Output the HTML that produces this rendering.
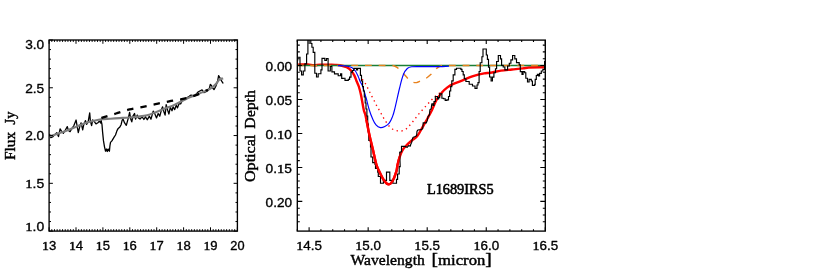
<!DOCTYPE html>
<html><head><meta charset="utf-8"><title>plot</title>
<style>
html,body{margin:0;padding:0;background:#fff;}
body{width:817px;height:272px;overflow:hidden;font-family:"Liberation Serif",serif;}
svg{display:block}
text{font-family:"Liberation Serif",serif;fill:#000;stroke:#000;stroke-width:0.45px;stroke-linejoin:round}
text.n{font-family:"Liberation Sans",sans-serif;stroke-width:0.34px}
tspan.o{font-family:"Liberation Serif",serif;stroke-width:0.45px}
</style></head><body>
<svg width="817" height="272" viewBox="0 0 817 272">
<rect width="817" height="272" fill="#fff"/>
<defs>
<clipPath id="cl"><rect x="49.1" y="40.0" width="188.3" height="191.1"/></clipPath>
<clipPath id="cr"><rect x="297.3" y="40.1" width="248" height="191"/></clipPath>
<clipPath id="ctop"><rect x="364" y="120" width="35.6" height="75"/></clipPath>
</defs>
<!-- left plot -->
<g clip-path="url(#cl)" fill="none" stroke-linejoin="round" stroke-linecap="butt">
<path d="M48.9 136 L49.7 134.4 L50.8 137.7 L53 136.6 L54.6 134.9 L56.8 132.7 L58.5 136.6 L60.1 128.8 L61.8 131.6 L63.4 133.2 L65.1 130.5 L67.3 126.6 L68.4 130.5 L70.1 131.6 L71.7 128.8 L73.9 125.5 L76.1 120 L77.2 126.6 L78.3 132.7 L80 125.5 L81.1 122.8 L82.7 129.9 L83.8 124.4 L85.5 120.6 L86.6 124.4 L88.2 121.7 L89.7 112.9 L90.4 121.1 L91.6 125.5 L92.7 120 L94.3 121.7 L96 123.9 L97.9 122.8 L99.35 121.14 L100.82 122.98 L101.1 120.3 L102 124.7 L102.6 132.1 L103.5 140.9 L104.5 146.8 L105.5 151.2 L106.4 149 L107.3 151.5 L108.2 149 L109.4 151.2 L109.9 146 L110.5 142.4 L111.9 140.9 L114.1 137.2 L115.5 135 L117 130.6 L118.2 128.4 L119.9 126.9 L121.1 124.7 L122.1 120.3 L123 119 L124.6 122.9 L126.3 125.3 L128.5 117.4 L129.6 112.4 L130.7 119 L131.8 121.8 L132.9 116.2 L134.5 113.5 L135.6 119 L137.3 115.1 L138.4 117.9 L140 119 L142.2 116.8 L143.9 119.5 L145.5 116.8 L147.2 119.8 L149.4 116.2 L151 119.2 L153.2 111.2 L154.9 114 L156.5 117.9 L158.2 113.5 L159.8 116.2 L161.5 109.6 L162.6 106.8 L163.7 111.2 L165.1 115.1 L166.2 104.6 L167.6 110.1 L168.9 114 L170.3 107.4 L172 110.7 L173.1 106.8 L174.7 109.6 L176.2 105.2 L177.5 107.9 L179.1 103.5 L180.8 103.8 L182.12 100.74 L183.96 99.82 L185.79 98.53 L189.19 96.36 L191.03 95.07 L194.71 95.81 L198.38 91.76 L202.06 89.93 L203.9 92.68 L207.57 90.85 L209.41 88.09 L210.33 84.41 L211.25 85.33 L212.72 88.09 L214.01 89.56 L215.85 86.25 L217.68 80.74 L218.6 75.59 L220.07 77.98 L221.36 80.74 L222.65 82.57 L223.2 83.49" stroke="#000" stroke-width="1.3"/>
<path d="M49.8 135.9 C55.33 134.03 60.93 132.33 66.4 130.3 C72.6 128 78.6 125.2 84.8 122.9 C87.14 122.03 89.57 121.39 92 120.8 C95.04 120.06 98.1 119.32 101.2 118.9 C104.25 118.49 107.33 118.5 110.4 118.3 C113.47 118.1 116.53 117.9 119.6 117.7 C122.67 117.5 125.74 117.35 128.8 117.1 C131.87 116.85 134.94 116.58 138 116.2 C141.08 115.82 144.19 115.57 147.2 114.8 C150.36 113.99 153.35 112.64 156.4 111.5 C159.48 110.34 162.54 109.11 165.6 107.9 C168.67 106.68 171.79 105.56 174.8 104.2 C177.93 102.79 180.92 101.12 184 99.6 C185.72 98.75 187.43 97.86 189.2 97.1 C192.24 95.79 195.33 94.63 198.4 93.4 C201.47 92.17 204.62 91.14 207.6 89.7 C209.54 88.76 211.39 87.62 213.1 86.3 C214.48 85.23 215.66 83.92 216.8 82.6 C217.8 81.45 218.26 79.79 219.5 78.9 C220.53 78.16 221.97 78.3 223.2 78" stroke="#7c7c7c" stroke-width="2.1" transform="translate(0,0.4)"/>
<path d="M100.3 117.4 C101.27 117.1 102.23 116.8 103.2 116.5 C107.47 115.2 111.73 113.89 116 112.6 C120.53 111.23 125 109.64 129.6 108.5 C134.05 107.4 138.61 106.82 143.1 105.9 C147.24 105.05 151.36 104.06 155.5 103.2 C160.06 102.26 164.63 101.36 169.2 100.5 C173.79 99.63 178.45 99.05 183 98 C187.39 96.98 191.77 95.86 196 94.3 C200.13 92.78 204 90.63 208 88.8" transform="translate(0,0.9)" stroke="#000" stroke-width="2.3" stroke-dasharray="6.4 7.1" stroke-dashoffset="-1.1"/>
</g>
<rect x="49.1" y="40.0" width="188.3" height="191.1" fill="none" stroke="#000" stroke-width="1.35"/>
<path d="M49.1 231.1 v-3.8 M49.1 40 v3.8 M51.79 231.1 v-1.9 M51.79 40 v1.9 M54.48 231.1 v-1.9 M54.48 40 v1.9 M57.17 231.1 v-1.9 M57.17 40 v1.9 M59.86 231.1 v-1.9 M59.86 40 v1.9 M62.55 231.1 v-1.9 M62.55 40 v1.9 M65.24 231.1 v-1.9 M65.24 40 v1.9 M67.93 231.1 v-1.9 M67.93 40 v1.9 M70.62 231.1 v-1.9 M70.62 40 v1.9 M73.31 231.1 v-1.9 M73.31 40 v1.9 M76 231.1 v-3.8 M76 40 v3.8 M78.69 231.1 v-1.9 M78.69 40 v1.9 M81.38 231.1 v-1.9 M81.38 40 v1.9 M84.07 231.1 v-1.9 M84.07 40 v1.9 M86.76 231.1 v-1.9 M86.76 40 v1.9 M89.45 231.1 v-1.9 M89.45 40 v1.9 M92.14 231.1 v-1.9 M92.14 40 v1.9 M94.83 231.1 v-1.9 M94.83 40 v1.9 M97.52 231.1 v-1.9 M97.52 40 v1.9 M100.21 231.1 v-1.9 M100.21 40 v1.9 M102.9 231.1 v-3.8 M102.9 40 v3.8 M105.59 231.1 v-1.9 M105.59 40 v1.9 M108.28 231.1 v-1.9 M108.28 40 v1.9 M110.97 231.1 v-1.9 M110.97 40 v1.9 M113.66 231.1 v-1.9 M113.66 40 v1.9 M116.35 231.1 v-1.9 M116.35 40 v1.9 M119.04 231.1 v-1.9 M119.04 40 v1.9 M121.73 231.1 v-1.9 M121.73 40 v1.9 M124.42 231.1 v-1.9 M124.42 40 v1.9 M127.11 231.1 v-1.9 M127.11 40 v1.9 M129.8 231.1 v-3.8 M129.8 40 v3.8 M132.49 231.1 v-1.9 M132.49 40 v1.9 M135.18 231.1 v-1.9 M135.18 40 v1.9 M137.87 231.1 v-1.9 M137.87 40 v1.9 M140.56 231.1 v-1.9 M140.56 40 v1.9 M143.25 231.1 v-1.9 M143.25 40 v1.9 M145.94 231.1 v-1.9 M145.94 40 v1.9 M148.63 231.1 v-1.9 M148.63 40 v1.9 M151.32 231.1 v-1.9 M151.32 40 v1.9 M154.01 231.1 v-1.9 M154.01 40 v1.9 M156.7 231.1 v-3.8 M156.7 40 v3.8 M159.39 231.1 v-1.9 M159.39 40 v1.9 M162.08 231.1 v-1.9 M162.08 40 v1.9 M164.77 231.1 v-1.9 M164.77 40 v1.9 M167.46 231.1 v-1.9 M167.46 40 v1.9 M170.15 231.1 v-1.9 M170.15 40 v1.9 M172.84 231.1 v-1.9 M172.84 40 v1.9 M175.53 231.1 v-1.9 M175.53 40 v1.9 M178.22 231.1 v-1.9 M178.22 40 v1.9 M180.91 231.1 v-1.9 M180.91 40 v1.9 M183.6 231.1 v-3.8 M183.6 40 v3.8 M186.29 231.1 v-1.9 M186.29 40 v1.9 M188.98 231.1 v-1.9 M188.98 40 v1.9 M191.67 231.1 v-1.9 M191.67 40 v1.9 M194.36 231.1 v-1.9 M194.36 40 v1.9 M197.05 231.1 v-1.9 M197.05 40 v1.9 M199.74 231.1 v-1.9 M199.74 40 v1.9 M202.43 231.1 v-1.9 M202.43 40 v1.9 M205.12 231.1 v-1.9 M205.12 40 v1.9 M207.81 231.1 v-1.9 M207.81 40 v1.9 M210.5 231.1 v-3.8 M210.5 40 v3.8 M213.19 231.1 v-1.9 M213.19 40 v1.9 M215.88 231.1 v-1.9 M215.88 40 v1.9 M218.57 231.1 v-1.9 M218.57 40 v1.9 M221.26 231.1 v-1.9 M221.26 40 v1.9 M223.95 231.1 v-1.9 M223.95 40 v1.9 M226.64 231.1 v-1.9 M226.64 40 v1.9 M229.33 231.1 v-1.9 M229.33 40 v1.9 M232.02 231.1 v-1.9 M232.02 40 v1.9 M234.71 231.1 v-1.9 M234.71 40 v1.9 M237.4 231.1 v-3.8 M237.4 40 v3.8 M49.1 231.1 h3.8 M237.4 231.1 h-3.8 M49.1 221.54 h1.9 M237.4 221.54 h-1.9 M49.1 211.99 h1.9 M237.4 211.99 h-1.9 M49.1 202.44 h1.9 M237.4 202.44 h-1.9 M49.1 192.88 h1.9 M237.4 192.88 h-1.9 M49.1 183.32 h3.8 M237.4 183.32 h-3.8 M49.1 173.77 h1.9 M237.4 173.77 h-1.9 M49.1 164.22 h1.9 M237.4 164.22 h-1.9 M49.1 154.66 h1.9 M237.4 154.66 h-1.9 M49.1 145.11 h1.9 M237.4 145.11 h-1.9 M49.1 135.55 h3.8 M237.4 135.55 h-3.8 M49.1 125.99 h1.9 M237.4 125.99 h-1.9 M49.1 116.44 h1.9 M237.4 116.44 h-1.9 M49.1 106.89 h1.9 M237.4 106.89 h-1.9 M49.1 97.33 h1.9 M237.4 97.33 h-1.9 M49.1 87.78 h3.8 M237.4 87.78 h-3.8 M49.1 78.22 h1.9 M237.4 78.22 h-1.9 M49.1 68.66 h1.9 M237.4 68.66 h-1.9 M49.1 59.11 h1.9 M237.4 59.11 h-1.9 M49.1 49.56 h1.9 M237.4 49.56 h-1.9 M49.1 40 h3.8 M237.4 40 h-3.8" stroke="#000" stroke-width="1" fill="none"/>
<!-- right plot -->
<g clip-path="url(#cr)" fill="none" stroke-linejoin="round">
<path d="M297.6 64.6 C301.07 64.57 304.54 64.35 308 64.5 C310.02 64.59 311.98 65.28 314 65.3 C316.01 65.32 317.99 64.64 320 64.6 C325 64.5 330 64.75 335 64.9 C336.67 64.95 338.36 64.88 340 65.2 C342.25 65.65 344.53 66.2 346.6 67.2 C348.25 68 349.75 69.16 351 70.5 C352.35 71.94 353.39 73.66 354.3 75.4 C355.23 77.18 355.75 79.14 356.5 81 C357.25 82.84 358.19 84.61 358.8 86.5 C359.7 89.29 360.39 92.14 361 95 C362.06 99.98 362.71 105.03 363.8 110 C364.18 111.71 365.02 113.29 365.4 115 C366.89 121.63 367.96 128.36 369.4 135 C370.49 140.02 371.82 145 373 150 C374.18 155 375.01 160.09 376.5 165 C377.32 167.71 378.64 170.26 379.9 172.8 C381.25 175.53 382.48 178.36 384.3 180.8 C385.39 182.26 386.68 184.26 388.5 184.3 C390.25 184.34 391.7 182.5 392.6 181 C394.44 177.93 395.45 174.42 396.5 171 C397.09 169.06 397.05 166.98 397.5 165 C398.12 162.3 398.82 159.62 399.7 157 C400.46 154.75 401.22 152.46 402.4 150.4 C403.44 148.59 404.86 147.01 406.3 145.5 C408.01 143.7 409.92 142.11 411.8 140.5 C413.58 138.97 415.83 137.93 417.3 136.1 C419.49 133.36 420.84 130.04 422.6 127 C424.24 124.17 425.92 121.36 427.5 118.5 C429.05 115.69 430.6 112.88 432 110 C433.57 106.78 434.64 103.32 436.4 100.2 C437.95 97.45 439.84 94.89 441.9 92.5 C443.53 90.6 445.41 88.92 447.4 87.4 C449.1 86.1 450.96 85 452.9 84.1 C455.85 82.73 458.97 81.78 462 80.6 C465.71 79.15 469.32 77.43 473.1 76.2 C476.7 75.03 480.39 74.15 484.1 73.4 C486.04 73.01 488.05 73.12 490 72.8 C493.69 72.19 497.3 71.15 501 70.6 C504.64 70.05 508.33 69.87 512 69.5 C515.67 69.13 519.34 68.84 523 68.4 C524.88 68.17 526.71 67.59 528.6 67.5 C534.16 67.23 539.73 67.37 545.3 67.3" stroke="#ff0000" stroke-width="2.4"/>
<path d="M297.3 65.5 H545.3" stroke="#1a7f34" stroke-width="1.4"/>
<path d="M297.6 65.5 C329.2 65.5 360.8 65.18 392.4 65.5 C393.49 65.51 394.53 66.02 395.5 66.5 C396.58 67.03 397.59 67.71 398.5 68.5 C400.24 70.02 401.82 71.72 403.4 73.4 C404.92 75.02 406.26 76.8 407.8 78.4 C408.63 79.27 409.51 80.11 410.5 80.8 C411.39 81.42 412.36 81.99 413.4 82.3 C414.39 82.6 415.48 82.77 416.5 82.6 C417.74 82.39 418.85 81.71 420 81.2 C422.02 80.31 424.13 79.57 426 78.4 C427.83 77.25 429.43 75.78 431 74.3 C432.77 72.64 434.23 70.66 436 69 C436.9 68.15 437.95 67.45 439 66.8 C439.79 66.31 440.59 65.77 441.5 65.6 C442.98 65.33 444.5 65.5 446 65.5 C479.1 65.47 512.2 65.5 545.3 65.5" stroke="#e8821e" stroke-width="1.4" stroke-dasharray="6.8 6.9" stroke-dashoffset="1.1"/>
<path d="M338 65.6 C340.87 65.73 343.76 65.58 346.6 66 C348.5 66.28 350.43 66.75 352.1 67.7 C353.45 68.47 354.51 69.72 355.4 71 C356.57 72.69 357.35 74.63 358.2 76.5 C359.02 78.3 359.58 80.21 360.4 82 C360.88 83.04 361.71 83.92 362.1 85 C363.58 89.11 364.79 93.31 366 97.5 C367.19 101.64 368.02 105.88 369.3 110 C370.23 112.99 371.32 115.94 372.6 118.8 C373.55 120.92 374.46 123.16 376 124.9 C377.14 126.19 378.71 127.29 380.4 127.6 C381.89 127.87 383.45 127.18 384.8 126.5 C386.44 125.68 388.07 124.65 389.2 123.2 C390.71 121.26 391.58 118.88 392.5 116.6 C393.36 114.47 393.95 112.23 394.5 110 C396.31 102.69 397.77 95.3 399.6 88 C400.74 83.47 401.68 78.85 403.4 74.5 C404.28 72.28 405.55 70.12 407.3 68.5 C408.45 67.43 410.14 67.02 411.7 66.8 C414.77 66.37 417.9 66.62 421 66.6 C427.33 66.56 433.67 66.69 440 66.6 C443 66.56 446 66.33 449 66.2" stroke="#0000ff" stroke-width="1.15"/>
<path d="M362.2 79.2 C363.27 80.7 364.42 82.14 365.4 83.7 C366.22 85.01 366.89 86.42 367.6 87.8 C368.35 89.26 369.07 90.73 369.8 92.2 C370.53 93.67 371.25 95.14 372 96.6 C372.75 98.07 373.55 99.53 374.3 101 C375.05 102.46 375.72 103.96 376.5 105.4 C377.25 106.79 378.12 108.12 378.9 109.5 C379.65 110.82 380.37 112.17 381.1 113.5 C381.87 114.9 382.59 116.33 383.4 117.7 C384.19 119.03 385.04 120.32 385.9 121.6 C386.9 123.09 387.83 124.64 389 126 C389.97 127.12 391.02 128.24 392.3 129 C393.64 129.8 395.18 130.26 396.7 130.6 C398.2 130.93 399.78 131.22 401.3 131 C402.86 130.78 404.38 130.16 405.7 129.3 C407 128.45 407.93 127.13 409 126 C410.13 124.8 411.25 123.58 412.3 122.3 C414.55 119.54 416.63 116.64 418.9 113.9 C420.69 111.74 422.62 109.69 424.5 107.6 C425.59 106.39 426.7 105.2 427.8 104 C428.9 102.8 429.97 101.58 431.1 100.4 C432.18 99.28 433.25 98.15 434.4 97.1 C435.55 96.05 436.74 95.03 438 94.1 C439.28 93.16 440.67 92.37 442 91.5" stroke="#ff0000" stroke-width="1.35" stroke-dasharray="1.35 3.5"/>
<path d="M297.6 61 L297.6 57.2 L300 57.2 L300 71 L301.6 71 L301.6 74.8 L303.3 74.8 L303.3 71 L304.9 71 L304.9 63.8 L306.6 63.8 L306.6 54 L307.9 54 L307.9 39 L310.8 39 L310.8 43.5 L311.9 43.5 L311.9 47.2 L313.2 47.2 L313.2 52.4 L314.8 52.4 L314.8 73.2 L316.5 73.2 L316.5 77 L318.2 77 L318.2 73.7 L320.9 73.7 L320.9 69.8 L322 69.8 L322 58.3 L324.8 58.3 L324.8 60.5 L326.4 60.5 L326.4 58.6 L328.1 58.6 L328.1 71 L330.3 71 L330.3 66.5 L331.9 66.5 L331.9 71.8 L334.5 71.8 L334.5 73.8 L338.2 73.8 L338.2 75.7 L340.6 75.7 L340.6 73.8 L341.7 73.8 L341.7 78.4 L343.2 78.4 L343.2 78.2 L345 78.2 L345 80.4 L348.3 80.4 L348.3 79.3 L349.6 79.3 L349.6 77.1 L351 77.1 L351 72.1 L352.4 72.1 L352.4 70.5 L353.8 70.5 L353.8 68.3 L356.5 68.3 L356.5 69.9 L357.6 69.9 L357.6 68.3 L360.4 68.3 L360.4 75.4 L361.5 75.4 L361.5 81 L362.6 81 L362.6 86.5 L363.4 86.5 L363.4 91 L364.3 91 L364.3 97 L365.2 97 L365.2 103 L366 103 L366 109 L366.9 109 L366.9 116 L367.7 116 L367.7 124 L368.3 124 L368.3 132 L368.8 132 L368.8 140.5 L370.5 140.5 L370.5 147 L371 147 L371 157 L372.7 157 L372.7 162.6 L375 162.6 L375 164.4 L375.5 164.4 L375.5 168.3 L377.7 168.3 L377.7 172.1 L378.3 172.1 L378.3 176.5 L380.5 176.5 L380.5 183.2 L383.4 183.2 L383.4 180.4 L386.5 180.4 L386.5 172.1 L389.8 172.1 L389.8 180.4 L392.8 180.4 L392.8 183.2 L396.5 183.2 L396.5 179.3 L397.6 179.3 L397.6 174 L399.2 174 L399.2 166.6 L400.2 166.6 L399.7 152.2 L401.5 151.7 L401.5 146.4 L404.6 146.4 L407.2 147.3 L408.6 145.6 L410.3 146 L410.8 144.3 L411.7 142.4 L412.2 139.3 L413 137.5 L415.2 136.6 L416.6 135.7 L417 131.3 L417.9 130 L421 129.6 L422.7 128.7 L423.2 122.9 L426.3 122.9 L427.2 120.7 L428.1 116.3 L429.4 115 L429.9 109.7 L431.2 108.8 L431.6 105.3 L431.9 103.7 L433 103.7 L433 105.4 L434 105.4 L434 101.5 L435.4 101.5 L435.3 96.5 L437.5 96.5 L437.5 99 L438.6 99 L438.6 97.6 L439.7 97.6 L439.7 93.8 L441.9 93.8 L441.9 98.2 L443.6 98.2 L443.6 98.7 L445.2 98.7 L445.2 100.4 L446.9 100.4 L446.9 99.8 L448.5 99.8 L448.5 96.5 L449.6 96.5 L449.6 91 L450.7 91 L450.7 86.6 L451.8 86.6 L451.8 80.9 L453.2 80.9 L453.2 74.8 L454.9 74.8 L454.9 69.3 L456.5 69.3 L456.5 68.2 L460.9 68.2 L460.9 69.3 L462 69.3 L462 71.5 L463.2 71.5 L463.2 74.8 L464.3 74.8 L464.3 78.7 L465.9 78.7 L465.9 81.5 L469.2 81.5 L469.2 84.2 L472.5 84.2 L472.5 86 L475 86 L475 88.3 L477 88.3 L477 85 L478 85 L478 82.6 L479.1 82.6 L479.1 71.5 L480.2 71.5 L480.2 62.7 L481.9 62.7 L481.9 56.7 L483 56.7 L483 49 L486.3 49 L486.3 55 L487.4 55 L487.4 59.4 L488.5 59.4 L488.5 67.1 L489.6 67.1 L489.6 77 L491.1 77 L491.1 81 L492.4 81 L492.4 77.1 L493.9 77.1 L493.9 72.7 L495.5 72.7 L495.5 68.7 L496.6 68.7 L496.6 61.5 L498.3 61.5 L498.3 55.5 L500.5 55.5 L500.5 58.8 L501.6 58.8 L501.6 65.4 L503.2 65.4 L503.2 67 L504.9 67 L504.9 69.8 L507.6 69.8 L507.6 66 L509.3 66 L509.3 63.2 L510.9 63.2 L510.9 59.9 L512.6 59.9 L512.6 55.5 L514.8 55.5 L514.8 58.8 L516.5 58.8 L516.5 62.6 L519.2 62.6 L519.2 64.8 L520.3 64.8 L520.3 71.6 L522 71.6 L522 74.4 L523.1 74.4 L523.1 71.6 L524.7 71.6 L524.7 72.7 L525.8 72.7 L525.8 78.2 L527.5 78.2 L527.5 82 L529.1 82 L529.1 79.3 L531.3 79.3 L531.3 81 L532.4 81 L532.4 85.4 L534.7 85.4 L534.7 84.3 L535.2 84.3 L535.2 79.3 L536.3 79.3 L536.3 75.5 L537.4 75.5 L537.4 74.4 L538.5 74.4 L538.5 76 L539.6 76 L539.6 73.3 L541.3 73.3 L541.3 71 L542.9 71 L542.9 69.4 L544.6 69.4 L544.6 61.5 L545.3 61.5" stroke="#000" stroke-width="1.15" stroke-linejoin="miter"/>
<g clip-path="url(#ctop)"><path d="M297.6 64.6 C301.07 64.57 304.54 64.35 308 64.5 C310.02 64.59 311.98 65.28 314 65.3 C316.01 65.32 317.99 64.64 320 64.6 C325 64.5 330 64.75 335 64.9 C336.67 64.95 338.36 64.88 340 65.2 C342.25 65.65 344.53 66.2 346.6 67.2 C348.25 68 349.75 69.16 351 70.5 C352.35 71.94 353.39 73.66 354.3 75.4 C355.23 77.18 355.75 79.14 356.5 81 C357.25 82.84 358.19 84.61 358.8 86.5 C359.7 89.29 360.39 92.14 361 95 C362.06 99.98 362.71 105.03 363.8 110 C364.18 111.71 365.02 113.29 365.4 115 C366.89 121.63 367.96 128.36 369.4 135 C370.49 140.02 371.82 145 373 150 C374.18 155 375.01 160.09 376.5 165 C377.32 167.71 378.64 170.26 379.9 172.8 C381.25 175.53 382.48 178.36 384.3 180.8 C385.39 182.26 386.68 184.26 388.5 184.3 C390.25 184.34 391.7 182.5 392.6 181 C394.44 177.93 395.45 174.42 396.5 171 C397.09 169.06 397.05 166.98 397.5 165 C398.12 162.3 398.82 159.62 399.7 157 C400.46 154.75 401.22 152.46 402.4 150.4 C403.44 148.59 404.86 147.01 406.3 145.5 C408.01 143.7 409.92 142.11 411.8 140.5 C413.58 138.97 415.83 137.93 417.3 136.1 C419.49 133.36 420.84 130.04 422.6 127 C424.24 124.17 425.92 121.36 427.5 118.5 C429.05 115.69 430.6 112.88 432 110 C433.57 106.78 434.64 103.32 436.4 100.2 C437.95 97.45 439.84 94.89 441.9 92.5 C443.53 90.6 445.41 88.92 447.4 87.4 C449.1 86.1 450.96 85 452.9 84.1 C455.85 82.73 458.97 81.78 462 80.6 C465.71 79.15 469.32 77.43 473.1 76.2 C476.7 75.03 480.39 74.15 484.1 73.4 C486.04 73.01 488.05 73.12 490 72.8 C493.69 72.19 497.3 71.15 501 70.6 C504.64 70.05 508.33 69.87 512 69.5 C515.67 69.13 519.34 68.84 523 68.4 C524.88 68.17 526.71 67.59 528.6 67.5 C534.16 67.23 539.73 67.37 545.3 67.3" stroke="#ff0000" stroke-width="2.4"/></g>
</g>
<rect x="297.3" y="40.1" width="248" height="191" fill="none" stroke="#000" stroke-width="1.35"/>
<path d="M297.3 231.1 v-1.9 M297.3 40.1 v1.9 M309.11 231.1 v-3.8 M309.11 40.1 v3.8 M320.92 231.1 v-1.9 M320.92 40.1 v1.9 M332.73 231.1 v-1.9 M332.73 40.1 v1.9 M344.54 231.1 v-1.9 M344.54 40.1 v1.9 M356.35 231.1 v-1.9 M356.35 40.1 v1.9 M368.16 231.1 v-3.8 M368.16 40.1 v3.8 M379.97 231.1 v-1.9 M379.97 40.1 v1.9 M391.78 231.1 v-1.9 M391.78 40.1 v1.9 M403.59 231.1 v-1.9 M403.59 40.1 v1.9 M415.4 231.1 v-1.9 M415.4 40.1 v1.9 M427.2 231.1 v-3.8 M427.2 40.1 v3.8 M439.01 231.1 v-1.9 M439.01 40.1 v1.9 M450.82 231.1 v-1.9 M450.82 40.1 v1.9 M462.63 231.1 v-1.9 M462.63 40.1 v1.9 M474.44 231.1 v-1.9 M474.44 40.1 v1.9 M486.25 231.1 v-3.8 M486.25 40.1 v3.8 M498.06 231.1 v-1.9 M498.06 40.1 v1.9 M509.87 231.1 v-1.9 M509.87 40.1 v1.9 M521.68 231.1 v-1.9 M521.68 40.1 v1.9 M533.49 231.1 v-1.9 M533.49 40.1 v1.9 M545.3 231.1 v-3.8 M545.3 40.1 v3.8 M297.3 45.12 h2.5 M545.3 45.12 h-2.5 M297.3 51.91 h2.5 M545.3 51.91 h-2.5 M297.3 58.7 h2.5 M545.3 58.7 h-2.5 M297.3 65.5 h5 M545.3 65.5 h-5 M297.3 72.3 h2.5 M545.3 72.3 h-2.5 M297.3 79.09 h2.5 M545.3 79.09 h-2.5 M297.3 85.88 h2.5 M545.3 85.88 h-2.5 M297.3 92.68 h2.5 M545.3 92.68 h-2.5 M297.3 99.47 h5 M545.3 99.47 h-5 M297.3 106.27 h2.5 M545.3 106.27 h-2.5 M297.3 113.06 h2.5 M545.3 113.06 h-2.5 M297.3 119.86 h2.5 M545.3 119.86 h-2.5 M297.3 126.66 h2.5 M545.3 126.66 h-2.5 M297.3 133.45 h5 M545.3 133.45 h-5 M297.3 140.25 h2.5 M545.3 140.25 h-2.5 M297.3 147.04 h2.5 M545.3 147.04 h-2.5 M297.3 153.84 h2.5 M545.3 153.84 h-2.5 M297.3 160.63 h2.5 M545.3 160.63 h-2.5 M297.3 167.43 h5 M545.3 167.43 h-5 M297.3 174.22 h2.5 M545.3 174.22 h-2.5 M297.3 181.02 h2.5 M545.3 181.02 h-2.5 M297.3 187.81 h2.5 M545.3 187.81 h-2.5 M297.3 194.6 h2.5 M545.3 194.6 h-2.5 M297.3 201.4 h5 M545.3 201.4 h-5 M297.3 208.19 h2.5 M545.3 208.19 h-2.5 M297.3 214.99 h2.5 M545.3 214.99 h-2.5 M297.3 221.78 h2.5 M545.3 221.78 h-2.5" stroke="#000" stroke-width="1.1" fill="none"/>

<g style="filter:grayscale(1)">
<text x="49.1" y="249.5" font-size="12.4" text-anchor="middle" textLength="14.2" lengthAdjust="spacingAndGlyphs" class="n"><tspan class="o" font-size="13.1">1</tspan>3</text>
<text x="76" y="249.5" font-size="12.4" text-anchor="middle" textLength="14.2" lengthAdjust="spacingAndGlyphs" class="n"><tspan class="o" font-size="13.1">1</tspan>4</text>
<text x="102.9" y="249.5" font-size="12.4" text-anchor="middle" textLength="14.2" lengthAdjust="spacingAndGlyphs" class="n"><tspan class="o" font-size="13.1">1</tspan>5</text>
<text x="129.8" y="249.5" font-size="12.4" text-anchor="middle" textLength="14.2" lengthAdjust="spacingAndGlyphs" class="n"><tspan class="o" font-size="13.1">1</tspan>6</text>
<text x="156.7" y="249.5" font-size="12.4" text-anchor="middle" textLength="14.2" lengthAdjust="spacingAndGlyphs" class="n"><tspan class="o" font-size="13.1">1</tspan>7</text>
<text x="183.6" y="249.5" font-size="12.4" text-anchor="middle" textLength="14.2" lengthAdjust="spacingAndGlyphs" class="n"><tspan class="o" font-size="13.1">1</tspan>8</text>
<text x="210.5" y="249.5" font-size="12.4" text-anchor="middle" textLength="14.2" lengthAdjust="spacingAndGlyphs" class="n"><tspan class="o" font-size="13.1">1</tspan>9</text>
<text x="237.4" y="249.5" font-size="12.4" text-anchor="middle" textLength="14.2" lengthAdjust="spacingAndGlyphs" class="n">20</text>
<text x="44.2" y="49.2" font-size="12.4" text-anchor="end" textLength="19" lengthAdjust="spacingAndGlyphs" class="n">3.0</text>
<text x="44.2" y="92.6" font-size="12.4" text-anchor="end" textLength="19" lengthAdjust="spacingAndGlyphs" class="n">2.5</text>
<text x="44.2" y="140.1" font-size="12.4" text-anchor="end" textLength="19" lengthAdjust="spacingAndGlyphs" class="n">2.0</text>
<text x="44.2" y="187.6" font-size="12.4" text-anchor="end" textLength="19" lengthAdjust="spacingAndGlyphs" class="n"><tspan class="o" font-size="13.1">1</tspan>.5</text>
<text x="44.2" y="231.2" font-size="12.4" text-anchor="end" textLength="19" lengthAdjust="spacingAndGlyphs" class="n"><tspan class="o" font-size="13.1">1</tspan>.0</text>
<text x="309.11" y="249.5" font-size="12.4" text-anchor="middle" textLength="25.7" lengthAdjust="spacingAndGlyphs" class="n"><tspan class="o" font-size="13.1">1</tspan>4.5</text>
<text x="368.16" y="249.5" font-size="12.4" text-anchor="middle" textLength="25.7" lengthAdjust="spacingAndGlyphs" class="n"><tspan class="o" font-size="13.1">1</tspan>5.0</text>
<text x="427.2" y="249.5" font-size="12.4" text-anchor="middle" textLength="25.7" lengthAdjust="spacingAndGlyphs" class="n"><tspan class="o" font-size="13.1">1</tspan>5.5</text>
<text x="486.25" y="249.5" font-size="12.4" text-anchor="middle" textLength="25.7" lengthAdjust="spacingAndGlyphs" class="n"><tspan class="o" font-size="13.1">1</tspan>6.0</text>
<text x="545.3" y="249.5" font-size="12.4" text-anchor="middle" textLength="25.7" lengthAdjust="spacingAndGlyphs" class="n"><tspan class="o" font-size="13.1">1</tspan>6.5</text>
<text x="292" y="70.7" font-size="12.4" text-anchor="end" textLength="26.4" lengthAdjust="spacingAndGlyphs" class="n">0.00</text>
<text x="292" y="104.67" font-size="12.4" text-anchor="end" textLength="26.4" lengthAdjust="spacingAndGlyphs" class="n">0.05</text>
<text x="292" y="138.65" font-size="12.4" text-anchor="end" textLength="26.4" lengthAdjust="spacingAndGlyphs" class="n">0.<tspan class="o" font-size="13.1">1</tspan>0</text>
<text x="292" y="172.62" font-size="12.4" text-anchor="end" textLength="26.4" lengthAdjust="spacingAndGlyphs" class="n">0.<tspan class="o" font-size="13.1">1</tspan>5</text>
<text x="292" y="206.6" font-size="12.4" text-anchor="end" textLength="26.4" lengthAdjust="spacingAndGlyphs" class="n">0.20</text>
<text x="350.6" y="264.7" font-size="15" text-anchor="start" textLength="74.2" lengthAdjust="spacingAndGlyphs">Wavelength</text>
<text x="431.6" y="264.7" font-size="15" text-anchor="start" textLength="60.2" lengthAdjust="spacingAndGlyphs"><tspan font-size="17.5" dy="0.7">[</tspan><tspan dy="-0.7">micron</tspan><tspan font-size="17.5" dy="0.7">]</tspan></text>
<text x="460.3" y="193.7" font-size="15" text-anchor="middle" textLength="66.8" lengthAdjust="spacingAndGlyphs" style="stroke-width:0.6px">L1689IRS5</text>
<text transform="translate(14.9,159.9) rotate(-90)" font-size="15" text-anchor="start" textLength="28" lengthAdjust="spacingAndGlyphs">Flux</text>
<text transform="translate(14.9,124.4) rotate(-90)" font-size="15" text-anchor="start" textLength="12.8" lengthAdjust="spacingAndGlyphs">Jy</text>
<text transform="translate(255.3,182) rotate(-90)" font-size="15" text-anchor="start" textLength="47.3" lengthAdjust="spacingAndGlyphs">Optical</text>
<text transform="translate(255.3,128.7) rotate(-90)" font-size="15" text-anchor="start" textLength="38.6" lengthAdjust="spacingAndGlyphs">Depth</text>
</g>
</svg></body></html>
